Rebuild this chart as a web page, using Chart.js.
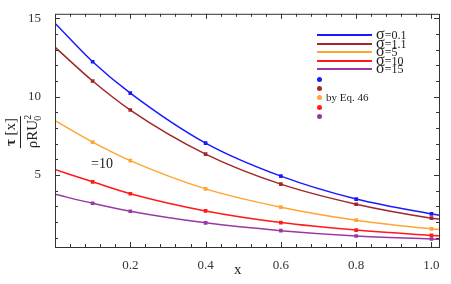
<!DOCTYPE html>
<html>
<head>
<meta charset="utf-8">
<script src="https://cdn.jsdelivr.net/npm/chart.js@4.4.1/dist/chart.umd.min.js"></script>
<style>
  body { margin: 0; background: #fff; }
  #wrap { position: relative; width: 451px; height: 284px; font-family: "Liberation Serif", serif; color: #222; }
  canvas { position: absolute; left: 0; top: 0; }
  .ov { position: absolute; white-space: nowrap; }
  #ylab { left: 23px; top: 132px; transform: translate(-50%, -50%) rotate(-90deg); text-align: center; font-size: 15px; line-height: 1; }
  #ylab .bar { border-top: 1px solid #222; margin: 2px 0; }
  #ylab sub, #ylab sup { font-size: 10px; }
  .leg-line { position: absolute; left: 317px; width: 55px; height: 2px; }
  .leg-txt { position: absolute; left: 376px; font-size: 12px; line-height: 1; }
  .leg-txt span { font-size: 16px; }
  .leg-dot { position: absolute; left: 317px; width: 5px; height: 5px; border-radius: 50%; }
</style>
</head>
<body>
<div id="wrap">
  <canvas id="chart" width="451" height="284"></canvas>
  <div id="ylab" class="ov">
    <div><b>τ</b> [x]</div>
    <div class="bar"></div>
    <div>ρRU<sup>2</sup><sub style="margin-left:-6px">0</sub></div>
  </div>
  <div class="ov" style="left:234px; top:261px; font-size:15px;">x</div>
  <div class="ov" style="left:91px; top:156px; font-size:14px;">=10</div>
  <div id="legend"></div>
</div>
<script>
// data
const curveX = [0, 0.1, 0.2, 0.4, 0.6, 0.8, 1.0, 1.02];
const markX = [0.1, 0.2, 0.4, 0.6, 0.8, 1.0];
const sigmas = ["0.1", "1.1", "5", "10", "15"];
const colors = ["#1a1aff", "#a0282a", "#ffa534", "#ff1a1a", "#9b37a5"];

const curve01 = [14.68, 12.22, 10.22, 7.03, 4.92, 3.46, 2.51, 2.43];
const curve11 = [13.15, 10.99, 9.14, 6.33, 4.41, 3.13, 2.24, 2.18];
const curve5 = [8.46, 7.09, 5.91, 4.11, 2.94, 2.11, 1.56, 1.52];
const curve10 = [5.34, 4.56, 3.80, 2.70, 1.96, 1.48, 1.14, 1.11];
const curve15 = [3.76, 3.19, 2.68, 1.94, 1.44, 1.10, 0.91, 0.89];

const eq01 = [12.22, 10.22, 7.03, 4.92, 3.46, 2.51];
const eq11 = [10.99, 9.14, 6.33, 4.41, 3.13, 2.24];
const eq5 = [7.09, 5.91, 4.11, 2.94, 2.11, 1.56];
const eq10 = [4.56, 3.80, 2.70, 1.96, 1.48, 1.14];
const eq15 = [3.19, 2.68, 1.94, 1.44, 1.10, 0.91];

const xTicks = [0.2, 0.4, 0.6, 0.8, 1.0];
const yTicks = [5, 10, 15];

const curves = [curve01, curve11, curve5, curve10, curve15];
const eqs = [eq01, eq11, eq5, eq10, eq15];

const datasets = [];
curves.forEach((c, i) => {
  datasets.push({
    data: curveX.map((x, j) => ({ x, y: c[j] })),
    showLine: true,
    borderColor: colors[i],
    borderWidth: 1.5,
    pointRadius: 0,
    cubicInterpolationMode: "monotone",
  });
});
eqs.forEach((e, i) => {
  datasets.push({
    data: markX.map((x, j) => ({ x, y: e[j] })),
    showLine: false,
    backgroundColor: colors[i],
    borderColor: colors[i],
    pointStyle: "rect",
    pointRadius: 2.6,
    borderWidth: 0,
  });
});

// frame + inward ticks
const framePlugin = {
  id: "frame",
  afterDraw(chart) {
    const { ctx, chartArea: a, scales } = chart;
    ctx.save();
    ctx.strokeStyle = "#333";
    ctx.lineWidth = 1;
    ctx.strokeRect(a.left + 0.5, a.top + 0.5, a.right - a.left, a.bottom - a.top);
    ctx.beginPath();
    for (let v = 0.04; v < 1.02; v += 0.04) {
      const px = Math.round(scales.x.getPixelForValue(v)) + 0.5;
      const major = Math.abs(v * 5 - Math.round(v * 5)) < 1e-6;
      const len = major ? 5 : 3;
      ctx.moveTo(px, a.bottom); ctx.lineTo(px, a.bottom - len);
      ctx.moveTo(px, a.top); ctx.lineTo(px, a.top + len);
    }
    for (let v = 1; v <= 15; v += 1) {
      const py = Math.round(scales.y.getPixelForValue(v)) + 0.5;
      const len = v % 5 === 0 ? 5 : 3;
      ctx.moveTo(a.left, py); ctx.lineTo(a.left + len, py);
      ctx.moveTo(a.right, py); ctx.lineTo(a.right - len, py);
    }
    ctx.stroke();
    ctx.restore();
  },
};

const tickFont = { family: "Liberation Serif", size: 13 };

new Chart(document.getElementById("chart"), {
  type: "scatter",
  data: { datasets },
  plugins: [framePlugin],
  options: {
    responsive: false,
    animation: false,
    layout: { padding: { top: 12, right: 12, left: 0, bottom: 0 } },
    plugins: { legend: { display: false }, tooltip: { enabled: false } },
    scales: {
      x: {
        type: "linear",
        min: 0,
        max: 1.02,
        grid: { display: false },
        border: { display: false },
        afterBuildTicks: (s) => { s.ticks = xTicks.map((v) => ({ value: v })); },
        afterFit: (s) => { s.height = 37; },
        ticks: { font: tickFont, color: "#333", padding: 3, maxRotation: 0, callback: (v) => v.toFixed(1) },
      },
      y: {
        type: "linear",
        min: 0.4,
        max: 15.28,
        grid: { display: false },
        border: { display: false },
        afterBuildTicks: (s) => { s.ticks = yTicks.map((v) => ({ value: v })); },
        afterFit: (s) => { s.width = 55; },
        ticks: { font: tickFont, color: "#333", padding: 6 },
      },
    },
  },
});

// legend overlay
const legend = document.getElementById("legend");
const lineY = [35, 43.5, 52, 60.5, 69];
const dotY = [79, 88.5, 97.5, 107, 116];
sigmas.forEach((s, i) => {
  const l = document.createElement("div");
  l.className = "leg-line";
  l.style.top = (lineY[i] - 1) + "px";
  l.style.background = colors[i];
  legend.appendChild(l);
  const t = document.createElement("div");
  t.className = "leg-txt ov";
  t.style.top = (lineY[i] - 9) + "px";
  t.innerHTML = "<span>σ</span>=" + s;
  legend.appendChild(t);
  const d = document.createElement("div");
  d.className = "leg-dot";
  d.style.top = (dotY[i] - 2.5) + "px";
  d.style.background = colors[i];
  legend.appendChild(d);
});
const eqTxt = document.createElement("div");
eqTxt.className = "ov";
eqTxt.style.cssText = "left:326px; top:91px; font-size:11px;";
eqTxt.textContent = "by Eq. 46";
legend.appendChild(eqTxt);
</script>
</body>
</html>
